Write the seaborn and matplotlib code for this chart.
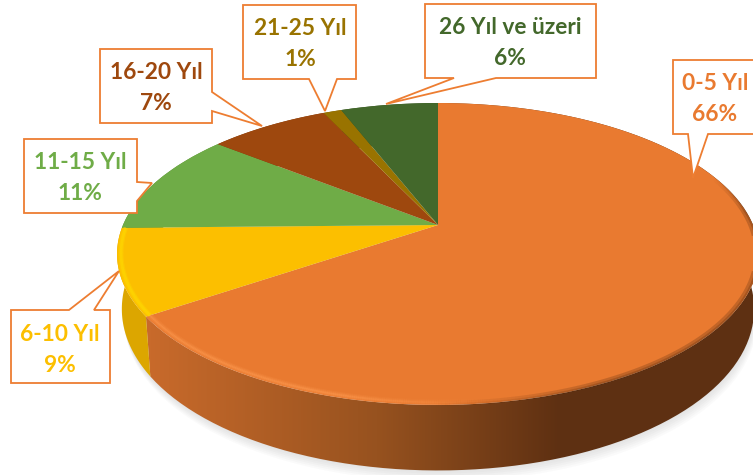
import numpy as np
import matplotlib
matplotlib.use("Agg")
import matplotlib.pyplot as plt
import seaborn as sns
from matplotlib.collections import LineCollection
from matplotlib.patches import Polygon
from matplotlib.transforms import Transform

categories = ["0-5 Yıl", "6-10 Yıl", "11-15 Yıl", "16-20 Yıl", "21-25 Yıl", "26 Yıl ve üzeri"]
values = [65.5, 9.2, 11.0, 7.3, 1.1, 5.9]
slice_colors = ["#E97A30", "#FCBF00", "#6FAC47", "#9E480E", "#997300", "#43682B"]
side_colors = ["#C66A2B", "#DCA600", "#5F9139", "#7C380B", "#775900", "#33501F"]

sns.set_theme(style="white")
palette = sns.color_palette(slice_colors)

# projection of the unit pie on to the tilted plane (pixels)
CX, CY, A, B, K = 438.0, 225.0, 315.0, 145.4, 0.192
W, H = 753, 475


class Tilt(Transform):
    input_dims = output_dims = 2
    is_separable = False
    has_inverse = False

    def transform_non_affine(self, values):
        x, y = np.asarray(values, float).T
        w = 1 + K * y
        return np.column_stack([CX + A * x / w, CY - B * y / w])


tilt = Tilt()


def rim_top(deg, r=1.0):
    t = np.radians(deg)
    return tilt.transform_non_affine(np.column_stack([r * np.cos(t), r * np.sin(t)]))


def rim_bottom(deg):
    t = np.radians(deg)
    p = rim_top(deg)
    p[:, 0] = CX + 0.985 * (p[:, 0] - CX)
    p[:, 1] = p[:, 1] + 52.5 - 13 * np.sin(t)
    return p


fig = plt.figure(figsize=(W / 100, H / 100), dpi=100)
ax = fig.add_axes([0, 0, 1, 1])
wedges, _ = ax.pie(values, colors=palette, startangle=90, counterclock=False,
                   wedgeprops={"linewidth": 0, "zorder": 3})
for w in wedges:
    w.set_transform(tilt + ax.transData)
ax.set_aspect("auto")

# soft shadow under the disc
full = np.linspace(0, 360, 361)
for d in (11, 9, 7, 5, 3, 1):
    pts = rim_bottom(full) + np.array([0.25 * d, d])
    ax.add_patch(Polygon(pts, closed=True, fc="#707070", ec="none", alpha=0.03, zorder=0))

# side walls
for i, w in enumerate(wedges):
    th = np.linspace(w.theta1, w.theta2, 120)
    pts = np.vstack([rim_top(th), rim_bottom(th)[::-1]])
    if i == 0:
        poly = Polygon(pts, closed=True, fc="none", ec="none", zorder=1)
        ax.add_patch(poly)
        xs = np.arange(W)
        stops_x = [150, 376, 560, 753]
        stops = np.array([[0xC8, 0x6A, 0x2B], [0x97, 0x52, 0x1F], [0x5E, 0x30, 0x12], [0x5E, 0x30, 0x12]]) / 255
        grad = np.stack([np.interp(xs, stops_x, stops[:, c]) for c in range(3)], axis=-1)[None, :, :]
        im = ax.imshow(grad, extent=(0, W, H, 0), aspect="auto", zorder=1)
        im.set_clip_path(poly)
    else:
        ax.add_patch(Polygon(pts, closed=True, fc=side_colors[i], ec="none", zorder=1))


def band(d1, d2, r, color, lw, alpha_fn):
    th = np.linspace(d1, d2, 200)
    p = rim_top(th, r)
    segs = np.stack([p[:-1], p[1:]], axis=1)
    rgb = matplotlib.colors.to_rgb(color)
    cols = [(*rgb, alpha_fn(t)) for t in 0.5 * (th[:-1] + th[1:])]
    ax.add_collection(LineCollection(segs, colors=cols, linewidths=lw, capstyle="butt", zorder=4))


orange_start = wedges[0].theta1
yellow_start = wedges[1].theta1
fade = lambda t: float(np.interp(t, [orange_start, -105, -80], [0.8, 0.8, 0.0]))
band(orange_start, -80, 0.988, "#FF9A50", 4.4, lambda t: 0.2 * fade(t))
band(orange_start, -80, 0.988, "#FF9A50", 2.8, lambda t: 0.3 * fade(t))
band(orange_start, -80, 0.988, "#FF9A50", 1.3, lambda t: 0.5 * fade(t))
band(yellow_start, orange_start, 0.988, "#FFD800", 3.6, lambda t: 0.45)
band(yellow_start, orange_start, 0.988, "#FFD800", 2.0, lambda t: 0.8)
dark = lambda t: float(np.interp(t, [-90, -65, 5, 20], [0.0, 0.22, 0.22, 0.0]))
band(-90, 20, 0.992, "#3A1C08", 3.2, dark)
band(-90, 20, 0.997, "#3A1C08", 1.6, dark)

# callouts: label box with pointer towards its slice
callouts = [
    ([(673, 60), (760, 60), (760, 134), (708, 134), (693, 178), (688, 134), (673, 134)], 715, 99),
    ([(11, 310), (69, 310), (119, 271), (94, 310), (110, 310), (110, 383), (11, 383)], 60, 350),
    ([(24, 139), (137, 139), (137, 182), (152, 183), (137, 201), (137, 213), (24, 213)], 80, 178),
    ([(100, 49), (212, 49), (212, 92), (262, 126), (212, 111), (212, 123), (100, 123)], 156, 88),
    ([(243, 5), (356, 5), (356, 79), (337, 79), (325, 111), (309, 79), (243, 79)], 300, 44),
    ([(425, 4), (596, 4), (596, 78), (496, 78), (386, 104), (454, 78), (425, 78)], 510, 43),
]
for name, v, col, (shape, tx, ty) in zip(categories, values, palette, callouts):
    ax.add_patch(Polygon(shape, closed=True, fc="white", ec="#ED7D31", lw=1.3,
                         joinstyle="miter", zorder=5))
    ax.text(tx, ty, f"{name}\n{v:.0f}%", ha="center", va="center", color=col, zorder=6,
            fontsize=16.4, fontweight="bold", family=["Lato", "DejaVu Sans"], linespacing=1.55)

ax.set_xlim(0, W)
ax.set_ylim(H, 0)
ax.axis("off")
fig.savefig("out.png", dpi=100, facecolor="white")
